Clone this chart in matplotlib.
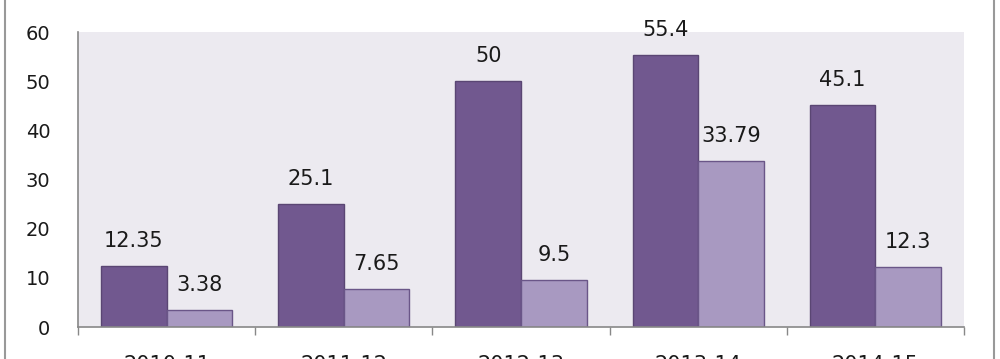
import matplotlib.pyplot as plt
from matplotlib.lines import Line2D
import numpy as np

years = ['2010-11', '2011-12', '2012-13', '2013-14', '2014-15']
series_a = [12.35, 25.1, 50, 55.4, 45.1]
series_b = [3.38, 7.65, 9.5, 33.79, 12.3]

dark = '#71588F'
light = '#A899C1'
bg = '#ECEAF0'

fig = plt.figure(figsize=(10, 3.59), dpi=100)
ax = fig.add_axes([0.078, 0.0891, 0.886, 0.8217])
ax.set_facecolor(bg)

x = np.arange(len(years))
w = 0.37
bars_a = ax.bar(x - w / 2, series_a, w, color=dark, edgecolor='#5A4673', linewidth=1)
bars_b = ax.bar(x + w / 2, series_b, w, color=light, edgecolor='#6A5688', linewidth=1)

for bars, vals in [(bars_a, series_a), (bars_b, series_b)]:
    for b, v in zip(bars, vals):
        ax.annotate(f'{v:g}', (b.get_x() + b.get_width() / 2, v),
                    xytext=(0, 18), textcoords='offset points',
                    ha='center', va='center', fontsize=15, color='#1a1a1a',
                    annotation_clip=False)

ax.set_xlim(-0.5, 4.5)
ax.set_ylim(0, 60)
ax.set_yticks(range(0, 61, 10))
ax.tick_params(axis='y', length=0, pad=20, labelsize=14, labelcolor='#1a1a1a')

# category ticks at the boundaries, labels centred under groups
# (the labels run off the bottom edge, as in the original cropped image)
ax.set_xticks(np.arange(-0.5, 5, 1))
ax.set_xticklabels([])
ax.set_xticks(x, minor=True)
ax.set_xticklabels(years, minor=True, fontsize=15, color='#1a1a1a')
ax.tick_params(axis='x', which='major', length=6, color='#888888', width=1)
ax.tick_params(axis='x', which='minor', length=0, pad=20)

for s in ['top', 'right']:
    ax.spines[s].set_visible(False)
for s in ['left', 'bottom']:
    ax.spines[s].set_color('#888888')
    ax.spines[s].set_linewidth(1.2)

# outer frame lines of the original chart box
fig.add_artist(Line2D([0.005, 0.005], [0, 1], color='#999999', lw=1.5))
fig.add_artist(Line2D([0.994, 0.994], [0, 1], color='#999999', lw=1.5))

fig.savefig('out.png', dpi=100)
